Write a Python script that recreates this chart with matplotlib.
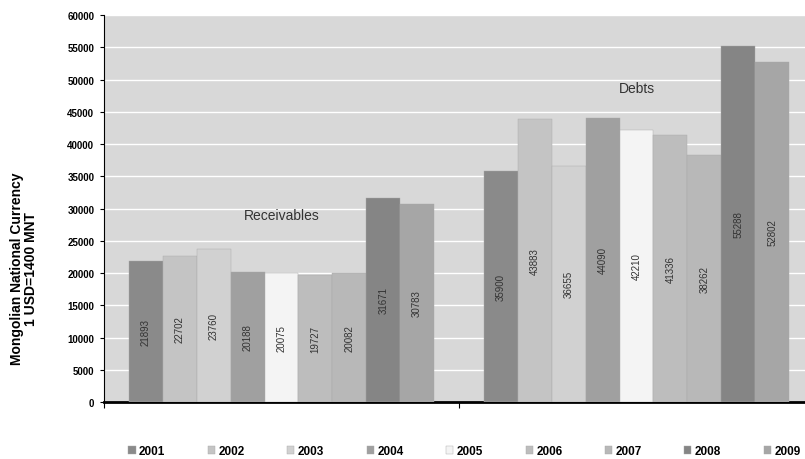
import matplotlib.pyplot as plt
import numpy as np

groups = ['Receivables', 'Debts']
years = ['2001', '2002', '2003', '2004', '2005', '2006', '2007', '2008', '2009']
receivables = [21893, 22702, 23760, 20188, 20075, 19727, 20082, 31671, 30783]
debts = [35900, 43883, 36655, 44090, 42210, 41336, 38262, 55288, 52802]
colors = ['#8a8a8a', '#c4c4c4', '#d1d1d1', '#a0a0a0', '#f4f4f4',
          '#bdbdbd', '#b8b8b8', '#858585', '#a6a6a6']

plt.rcParams['font.family'] = ['Liberation Sans', 'DejaVu Sans']

fig = plt.figure(figsize=(8.05, 4.6), dpi=100)
ax = fig.add_axes([0.1292, 0.1239, 0.882, 0.841])
ax.set_facecolor('#d8d8d8')

x = np.arange(len(groups))
w = 0.0955
for i, yr in enumerate(years):
    vals = [receivables[i], debts[i]]
    pos = x + (i - 4) * w
    ax.bar(pos, vals, width=w, color=colors[i], edgecolor='#a8a8a8',
           linewidth=0.3, label=yr, zorder=3)
    for p, v in zip(pos, vals):
        ax.text(p, v / 2, str(v), rotation=90, ha='center', va='center',
                fontsize=7, color='#333333', zorder=4)

# group titles
ax.text(0, 28990, 'Receivables', ha='center', va='center', fontsize=10,
        color='#333333', zorder=4)
ax.text(1, 48680, 'Debts', ha='center', va='center', fontsize=10,
        color='#333333', zorder=4)

ax.set_ylim(0, 60000)
ax.set_xlim(-0.5, 1.5)
ax.set_yticks(range(0, 60001, 5000))
ax.set_yticklabels([str(v) for v in range(0, 60001, 5000)],
                   fontsize=7, fontweight='bold')
ax.set_xticks([-0.5, 0.5, 1.5])
ax.set_xticklabels([])
ax.grid(axis='y', color='white', linewidth=1, zorder=0)
ax.set_axisbelow(True)
ax.tick_params(axis='y', length=3, width=0.8, direction='out', pad=4)
ax.tick_params(axis='x', length=4, width=0.8, direction='out')
for s in ['top', 'right']:
    ax.spines[s].set_visible(False)
ax.spines['left'].set_linewidth(0.8)
ax.spines['bottom'].set_linewidth(2)

fig.text(0.030, 0.415, 'Mongolian National Currency\n1 USD=1400 MNT',
         rotation=90, ha='center', va='center', fontsize=10,
         fontweight='bold', linespacing=1.0)

fig.legend(loc='center', bbox_to_anchor=(0.577, 0.017), ncol=9, frameon=False,
           handlelength=0.6, handleheight=0.6, handletextpad=0.3,
           columnspacing=3.6, prop={'size': 8.5, 'weight': 'bold'})

fig.savefig('out.png', dpi=100)
